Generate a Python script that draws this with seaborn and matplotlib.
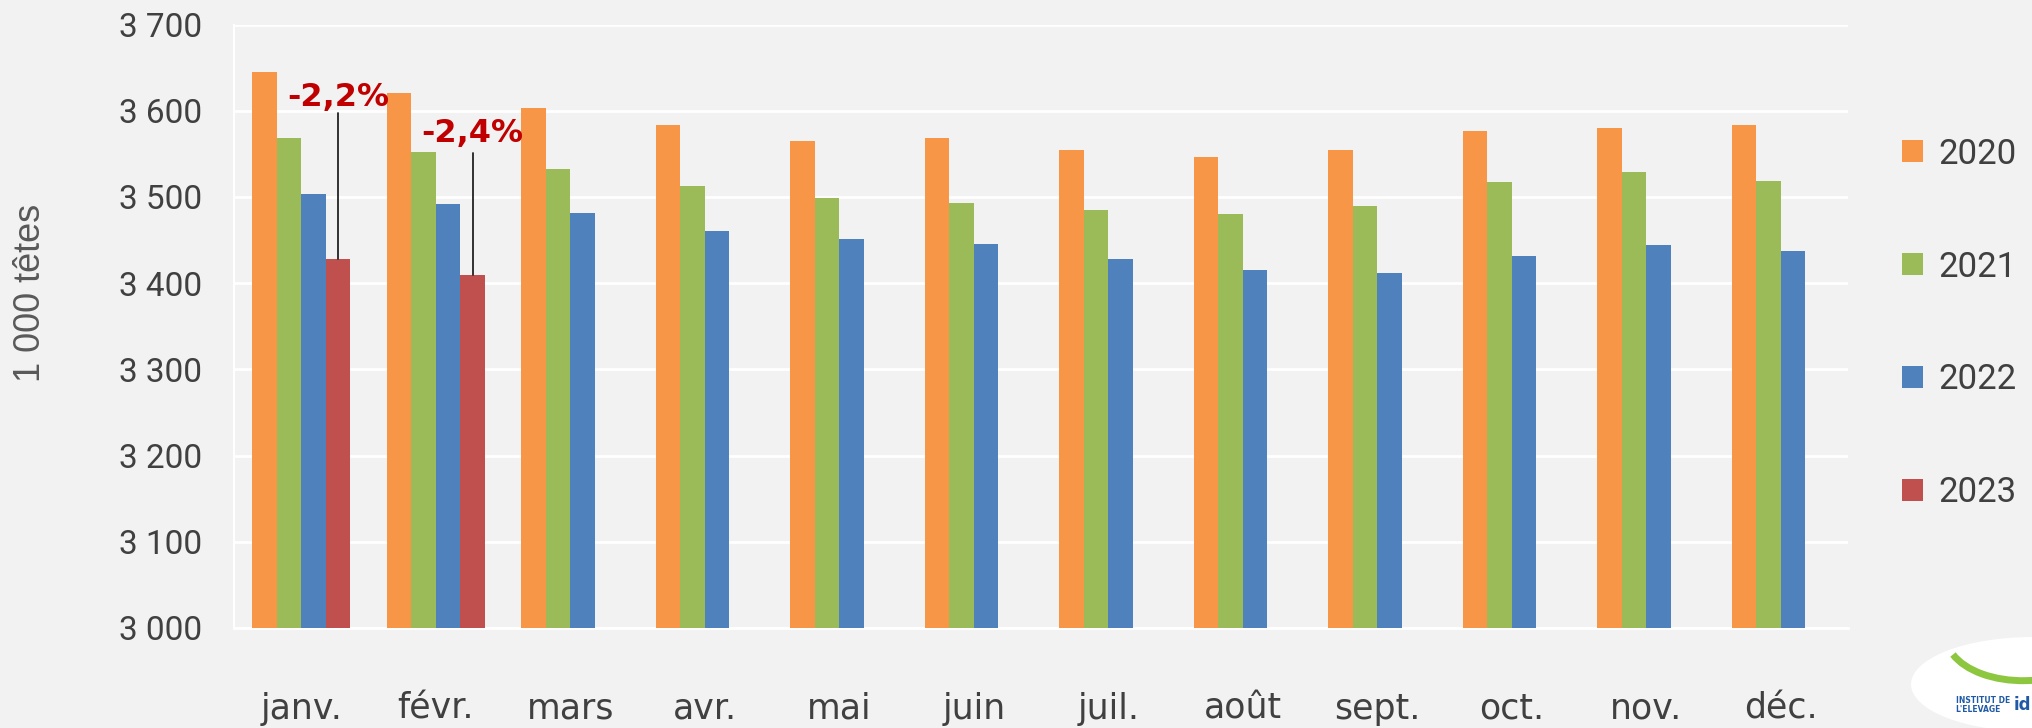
import matplotlib
matplotlib.use("Agg")
import matplotlib.pyplot as plt
import seaborn as sns
import pandas as pd
import numpy as np
from matplotlib.patches import Ellipse, Arc
from matplotlib.ticker import FixedLocator

# ---------------- data ----------------
months = ["janv.", "févr.", "mars", "avr.", "mai", "juin",
          "juil.", "août", "sept.", "oct.", "nov.", "déc."]
years = ["2020", "2021", "2022", "2023"]
v2020 = [3645, 3621, 3603, 3584, 3565, 3568, 3555, 3546, 3555, 3577, 3580, 3584]
v2021 = [3568, 3552, 3533, 3513, 3499, 3493, 3485, 3480, 3490, 3517, 3529, 3518]
v2022 = [3503, 3492, 3482, 3460, 3451, 3445, 3428, 3415, 3412, 3432, 3444, 3437]
v2023 = [3428, 3410]
yticks = [3000, 3100, 3200, 3300, 3400, 3500, 3600, 3700]
ytick_labels = ["3 000", "3 100", "3 200", "3 300", "3 400", "3 500", "3 600", "3 700"]
ylabel = "1 000 têtes"
annot_texts = ["-2,2%", "-2,4%"]
annot_text_y = [3616, 3574]   # label anchor (data units)
annot_line_top = [3597, 3551]  # top of leader line (data units)

colors = {"2020": "#F79646", "2021": "#9BBB59", "2022": "#4F81BD", "2023": "#C0504D"}

rows = []
for yr, vals in zip(years, [v2020, v2021, v2022, v2023]):
    for m, v in zip(months, vals):
        rows.append({"mois": m, "annee": yr, "valeur": v})
df = pd.DataFrame(rows)

# ---------------- figure ----------------
sns.set_theme(style="white")
plt.rcParams["font.family"] = ["Roboto", "DejaVu Sans"]

bg = "#F2F2F2"
txt_col = "#404040"
fig = plt.figure(figsize=(20.33, 7.28), dpi=100, facecolor=bg)
ax = fig.add_axes([0.1151, 0.1374, 0.7940, 0.8288])
ax.set_facecolor(bg)

sns.barplot(data=df, x="mois", y="valeur", hue="annee", order=months,
            hue_order=years, palette=colors, width=0.73, saturation=1,
            errorbar=None, ax=ax, zorder=3, linewidth=0)

ax.set_ylim(3000, 3700)
ax.set_xlim(-0.5, len(months) - 0.5)
ax.set_yticks(yticks)
ax.set_yticklabels(ytick_labels)
ax.set_xlabel("")
ax.set_ylabel("")

ax.yaxis.grid(True, color="white", linewidth=2, zorder=0)
ax.set_axisbelow(True)
for s in ["top", "right"]:
    ax.spines[s].set_visible(False)
ax.spines["bottom"].set_color("white")
ax.spines["bottom"].set_linewidth(2)
ax.spines["left"].set_color("white")
ax.spines["left"].set_linewidth(1.5)

ax.tick_params(axis="y", length=0, pad=23, labelsize=24, labelcolor=txt_col)
ax.tick_params(axis="x", which="major", length=0, pad=46, labelsize=25, labelcolor=txt_col)
ax.xaxis.set_minor_locator(FixedLocator(np.arange(-0.5, len(months), 1.0)))
ax.tick_params(axis="x", which="minor", length=12, width=1.5, color="white", direction="out")
for lab in ax.get_xticklabels():
    lab.set_family(["DejaVu Sans"])
for lab in ax.get_yticklabels():
    lab.set_family(["Roboto", "DejaVu Sans"])

fig.text(0.0148, 0.598, ylabel, rotation=90, ha="center", va="center",
         fontsize=26, color="#595959", family=["Liberation Sans", "DejaVu Sans"])

# annotations on 2023 bars
bars23 = [p for p in ax.containers[3] if np.isfinite(p.get_height())]
for p, txt, ty, ly in zip(bars23, annot_texts, annot_text_y, annot_line_top):
    xc = p.get_x() + p.get_width() / 2
    ax.plot([xc, xc], [p.get_height(), ly], color="#222222", lw=1.3, zorder=4)
    ax.text(xc, ty, txt, ha="center", va="center", fontsize=23,
            fontweight="bold", color="#C00000", zorder=5,
            family=["DejaVu Sans"])

# legend
handles, labels = ax.get_legend_handles_labels()
if ax.get_legend():
    ax.get_legend().remove()
leg = fig.legend(handles, labels, loc="center left",
                 bbox_to_anchor=(0.9355, 0.5557), bbox_transform=fig.transFigure,
                 frameon=False, fontsize=25, labelspacing=2.3,
                 handlelength=0.6, handleheight=0.6, handletextpad=0.45,
                 borderpad=0, borderaxespad=0)
for t in leg.get_texts():
    t.set_color(txt_col)

# logo (approximation)
logo = Ellipse((1.0, 0.06), 0.12, 0.13, transform=fig.transFigure,
               facecolor="white", edgecolor="none", zorder=1)
fig.patches.append(logo)
arc = Arc((0.995, 0.125), 0.075, 0.12, theta1=215, theta2=330,
          transform=fig.transFigure, color="#8DC63F", lw=5)
fig.patches.append(arc)
fig.text(0.962, 0.032, "INSTITUT DE\nL'ELEVAGE", fontsize=5.5, fontweight="bold",
         color="#1F5AA6", ha="left", va="center", linespacing=1.0,
         family=["DejaVu Sans"])
fig.text(0.9905, 0.032, "id", fontsize=12, fontweight="bold", color="#1F5AA6",
         ha="left", va="center", family=["DejaVu Sans"])

fig.savefig("out.png", dpi=100, facecolor=bg)
